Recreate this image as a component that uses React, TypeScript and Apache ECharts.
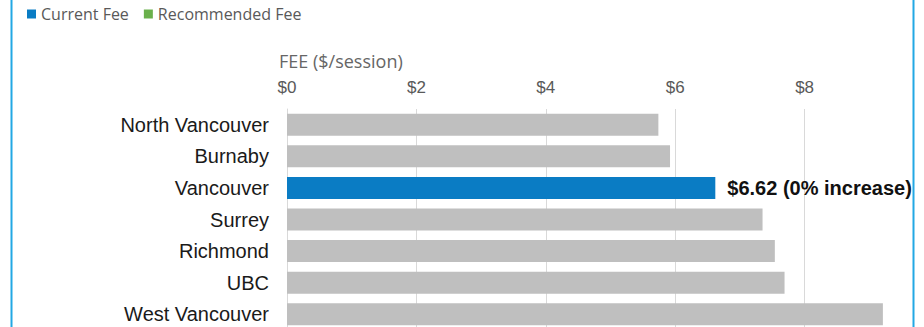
import React, { useEffect, useRef } from "react";
import * as echarts from "echarts";

const categories = [
  "North Vancouver",
  "Burnaby",
  "Vancouver",
  "Surrey",
  "Richmond",
  "UBC",
  "West Vancouver",
];
const currentFee = [5.74, 5.92, 6.62, 7.35, 7.54, 7.69, 9.21];
const recommendedFee: (number | null)[] = [null, null, null, null, null, null, null];
const highlighted = "Vancouver";
const highlightIncrease = "0%";
const tickValues = [0, 2, 4, 6, 8];
const seriesNames = ["Current Fee", "Recommended Fee"];
const axisTitle = "FEE ($/session)";

export default function App() {
  const ref = useRef<HTMLDivElement>(null);
  useEffect(() => {
    if (!ref.current) return;
    const chart = echarts.init(ref.current, null, { renderer: "svg" });
    const blue = "#0A7CC4";
    const gray = "#BFBFBF";
    chart.setOption({
      animation: false,
      backgroundColor: "#fff",
      title: {
        text: axisTitle,
        left: 279,
        top: 52,
        padding: 0,
        textStyle: {
          fontFamily: "Open Sans",
          fontSize: 18,
          fontWeight: "normal",
          color: "#666",
        },
      },
      legend: {
        data: seriesNames,
        left: 27,
        top: 6,
        padding: 0,
        icon: "rect",
        itemWidth: 9,
        itemHeight: 9,
        itemGap: 15,
        textStyle: { fontFamily: "Open Sans", fontSize: 16, color: "#595959" },
      },
      grid: {
        left: 287,
        width: 647,
        top: 109,
        height: 221,
        containLabel: false,
        outerBoundsMode: "none",
      },
      xAxis: {
        type: "value",
        position: "top",
        min: 0,
        max: 10,
        interval: 2,
        axisLine: { show: false },
        axisTick: { show: false },
        axisLabel: {
          margin: 13,
          fontFamily: "Liberation Sans",
          fontSize: 17,
          color: "#595959",
          formatter: (v: number) => (tickValues.includes(v) ? `$${v}` : ""),
        },
        splitLine: { show: true, lineStyle: { color: "#D9D9D9", width: 1 } },
      },
      yAxis: {
        type: "category",
        inverse: true,
        data: categories,
        axisLine: { show: true, lineStyle: { color: "#D9D9D9", width: 1 } },
        axisTick: { show: false },
        axisLabel: {
          margin: 18,
          fontFamily: "Liberation Sans",
          fontSize: 20,
          color: "#1a1a1a",
        },
      },
      series: [
        {
          name: seriesNames[0],
          type: "bar",
          stack: "fee",
          barWidth: 22,
          itemStyle: { color: blue },
          data: currentFee.map((v, i) => {
            const isHi = categories[i] === highlighted;
            return {
              value: v,
              itemStyle: { color: isHi ? blue : gray },
              label: isHi
                ? {
                    show: true,
                    position: "right",
                    distance: 12,
                    formatter: `$${v.toFixed(2)} (${highlightIncrease} increase)`,
                    fontFamily: "Liberation Sans",
                    fontWeight: "bold",
                    fontSize: 20,
                    color: "#111",
                  }
                : { show: false },
            };
          }),
        },
        {
          name: seriesNames[1],
          type: "bar",
          stack: "fee",
          barWidth: 22,
          itemStyle: { color: "#6AB04C" },
          data: recommendedFee,
        },
      ],
      graphic: [
        {
          type: "line",
          z: 100,
          shape: { x1: 11.5, y1: 0, x2: 11.5, y2: 327 },
          style: { stroke: "#22A8E4", lineWidth: 2 },
        },
        {
          type: "line",
          z: 100,
          shape: { x1: 913.5, y1: 0, x2: 913.5, y2: 327 },
          style: { stroke: "#22A8E4", lineWidth: 2 },
        },
        {
          type: "rect",
          z: 99,
          shape: { x: 914.5, y: 0, width: 20, height: 327 },
          style: { fill: "#fff" },
        },
      ],
    });
    return () => chart.dispose();
  }, []);
  return (
    <div
      ref={ref}
      style={{ position: "absolute", left: 0, top: 0, width: 924, height: 327 }}
    />
  );
}
